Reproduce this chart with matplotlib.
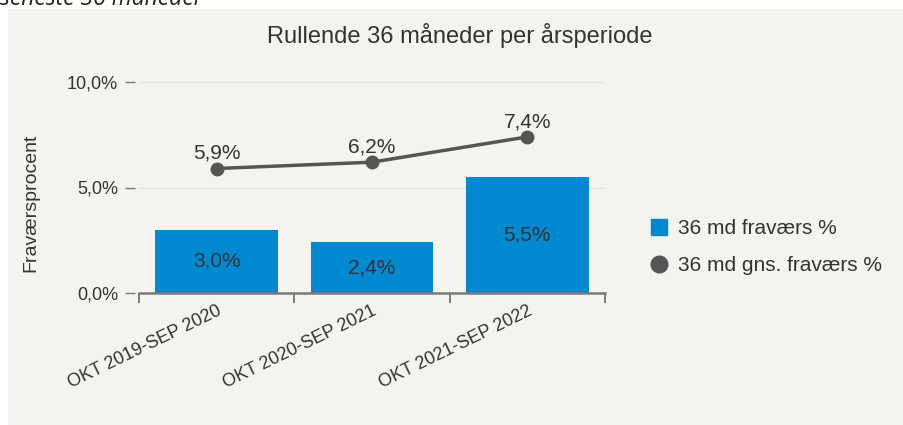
import matplotlib
matplotlib.use("Agg")
import matplotlib.pyplot as plt
from matplotlib.patches import Rectangle
from matplotlib.lines import Line2D

plt.rcParams['font.family'] = ['Liberation Sans', 'DejaVu Sans']

categories = ["OKT 2019-SEP 2020", "OKT 2020-SEP 2021", "OKT 2021-SEP 2022"]
bar_values = [3.0, 2.4, 5.5]
line_values = [5.9, 6.2, 7.4]
yticks = [0, 5, 10]
ytick_labels = ["0,0%", "5,0%", "10,0%"]
title = "Rullende 36 måneder per årsperiode"
ylabel = "Fraværsprocent"
legend_labels = ["36 md fraværs %", "36 md gns. fraværs %"]

W, H = 904, 425
fig = plt.figure(figsize=(W / 100, H / 100), dpi=100, facecolor='white')

# panel background
fig.patches.append(Rectangle((8 / W, 0), 1 - 8 / W, 1 - 9 / H, transform=fig.transFigure,
                             facecolor='#f4f3f0', edgecolor='none', zorder=-5))
# clipped caption at top
fig.text(0 / W, 1 - 5 / H, "seneste 36 måneder", fontsize=16.5, style='italic',
         color='#222222', va='baseline', ha='left', family=['Open Sans', 'DejaVu Sans'])

left, right = 139 / W, 605 / W
bottom, top = (H - 293) / H, (H - 82) / H
ax = fig.add_axes([left, bottom, right - left, top - bottom])
ax.set_facecolor('none')

bar_color = '#0089d1'
line_color = '#555555'
text_color = '#333333'

x = list(range(len(categories)))
ax.bar(x, bar_values, width=0.79, color=bar_color, zorder=2)
ax.plot(x, line_values, color=line_color, lw=2.5, marker='o', markersize=9,
        markerfacecolor=line_color, markeredgecolor=line_color, zorder=3)

for xi, v in zip(x, bar_values):
    ax.text(xi, v / 2, f"{v:.1f}%".replace('.', ','), ha='center', va='center',
            fontsize=15, color=text_color, zorder=4)
for xi, v in zip(x, line_values):
    ax.annotate(f"{v:.1f}%".replace('.', ','), (xi, v), xytext=(0, 4),
                textcoords='offset points', ha='center', va='bottom',
                fontsize=15, color=text_color, zorder=4)

for s in ['top', 'right']:
    ax.spines[s].set_visible(False)
ax.spines['left'].set_position(('outward', 3))
ax.spines['left'].set_visible(False)
ax.spines['bottom'].set_color('#7a7a7a')
ax.spines['bottom'].set_linewidth(1.8)

ax.set_xlim(-0.5, len(categories) - 0.5)
ax.set_ylim(0, 10)
ax.set_yticks(yticks)
ax.set_yticklabels(ytick_labels)
ax.tick_params(axis='y', length=7, color='#777777', width=1, pad=5,
               labelsize=13, labelcolor=text_color)
ax.yaxis.grid(True, color='#e2e1de', lw=1, zorder=0)
ax.set_axisbelow(True)

ax.set_xticks(x)
ax.set_xticklabels(categories, rotation=26, ha='right', rotation_mode='anchor')
ax.tick_params(axis='x', which='major', length=0, pad=7, labelsize=13,
               labelcolor=text_color)
# category boundary ticks
ax.set_xticks([i - 0.5 for i in range(len(categories) + 1)], minor=True)
ax.tick_params(axis='x', which='minor', length=7, color='#7a7a7a', width=1.4)

fig.text(460 / W, 1 - 36 / H, title, ha='center', va='center', fontsize=17, color=text_color)
fig.text(31 / W, 1 - 203 / H, ylabel, ha='center', va='center', rotation=90,
         fontsize=14, color=text_color)

handles = [Line2D([], [], ls='none', marker='s', markersize=12, color=bar_color),
           Line2D([], [], ls='none', marker='o', markersize=12, color=line_color)]
fig.legend(handles, legend_labels, loc='center left', bbox_to_anchor=(628 / W, 1 - 247 / H),
           frameon=False, fontsize=15, labelcolor=text_color, handletextpad=0.3,
           labelspacing=0.85, handlelength=1.2)

fig.savefig("out.png", dpi=100, facecolor=fig.get_facecolor())
